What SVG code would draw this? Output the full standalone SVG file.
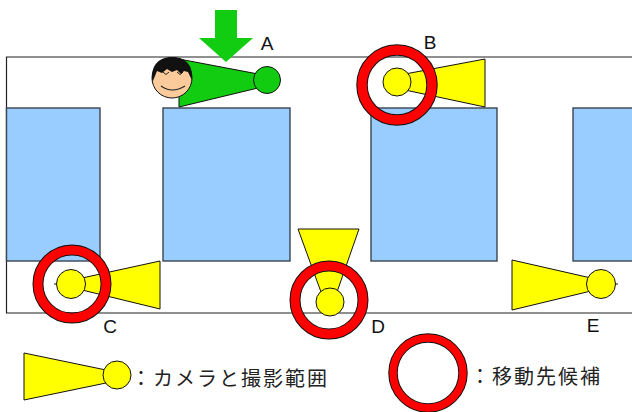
<svg xmlns="http://www.w3.org/2000/svg" width="632" height="412" viewBox="0 0 632 412">
  <style>
    .edge { fill: none; stroke: #222; stroke-width: 1.2; }
    .block { fill: #99CCFF; stroke: #3a4550; stroke-width: 1.4; }
    .cam { fill: #FFFF00; stroke: #111; stroke-width: 1; stroke-linejoin: round; }
    .cam-a { fill: #11CC11; stroke: #111; stroke-width: 1; stroke-linejoin: round; }
    .ring-edge { fill: none; stroke: #111; }
    .ring { fill: none; stroke: #FF0000; }
    .lbl { font-family: "Liberation Sans", Arial, sans-serif; font-size: 19px; fill: #111; text-anchor: middle; }
    .jp { font-family: "Noto Sans CJK JP", "Noto Sans", sans-serif; font-size: 20px; fill: #222; letter-spacing: 2px; }
  </style>

  <!-- corridor outline -->
  <g id="corridor">
    <path class="edge" d="M640,57 H6.5 V313 H640"/>
  </g>

  <!-- rooms -->
  <g id="room-1"><rect class="block" x="6.5" y="108" width="93.5" height="153"/></g>
  <g id="room-2"><rect class="block" x="163" y="108" width="127" height="153"/></g>
  <g id="room-3"><rect class="block" x="371" y="108" width="126" height="153"/></g>
  <g id="room-4"><rect class="block" x="573" y="108" width="70" height="153"/></g>

  <!-- camera A with person -->
  <g id="camera-a">
    <polygon class="cam-a" points="179,59 258,74 258,88 179,107"/>
    <circle class="cam-a" cx="267" cy="80" r="13.5"/>
    <g id="person">
      <circle cx="172" cy="78" r="20" fill="#FBCB9B" stroke="#111" stroke-width="1"/>
      <path d="M152.5,82 C150,63 161,57 172,57 C184,57 194,64 191.8,80 L188,72 L184,71 L181,74 L177,70 L172,72 L167,69 L162,73 L157,71 Z" fill="#111"/>
      <path d="M163,72 l3,2.5 l3,-2.5 M177,72 l3,2.5 l3,-2.5" fill="none" stroke="#222" stroke-width="1"/>
      <path d="M161,86 Q172,94 185,86" fill="none" stroke="#222" stroke-width="1.1"/>
    </g>
  </g>

  <!-- down arrow -->
  <g id="arrow">
    <polygon points="215,10 237,10 237,38 253,38 226,62 199,38 215,38" fill="#11CC11"/>
  </g>

  <!-- camera B -->
  <g id="camera-b">
    <polygon class="cam" points="405,74 485,59 485,107 405,90"/>
    <circle class="cam" cx="397" cy="82" r="14"/>
  </g>

  <!-- camera C -->
  <g id="camera-c">
    <polygon class="cam" points="82,278 160,261 160,309 82,290"/>
    <circle class="cam" cx="71" cy="284" r="14.5"/>
    <line x1="54" y1="284" x2="57" y2="284" stroke="#111" stroke-width="1"/>
  </g>

  <!-- camera D -->
  <g id="camera-d">
    <polygon class="cam" points="298,229 359,229 337,292 321,292"/>
    <circle class="cam" cx="330" cy="302" r="14"/>
  </g>

  <!-- camera E -->
  <g id="camera-e">
    <polygon class="cam" points="512,260 591,278 591,291 512,310"/>
    <circle class="cam" cx="601" cy="284" r="14.5"/>
    <line x1="615" y1="284" x2="618" y2="284" stroke="#111" stroke-width="1"/>
  </g>

  <!-- candidate rings -->
  <g id="ring-b">
    <circle class="ring-edge" cx="397" cy="85" r="35" stroke-width="11.5"/>
    <circle class="ring" cx="397" cy="85" r="35" stroke-width="9.5"/>
  </g>
  <g id="ring-c">
    <circle class="ring-edge" cx="72" cy="284" r="34" stroke-width="11"/>
    <circle class="ring" cx="72" cy="284" r="34" stroke-width="9"/>
  </g>
  <g id="ring-d">
    <circle class="ring-edge" cx="329" cy="300" r="34" stroke-width="11"/>
    <circle class="ring" cx="329" cy="300" r="34" stroke-width="9"/>
  </g>

  <!-- position labels -->
  <g id="labels">
    <text class="lbl" x="267" y="50">A</text>
    <text class="lbl" x="430" y="49">B</text>
    <text class="lbl" x="110" y="333">C</text>
    <text class="lbl" x="378" y="333">D</text>
    <text class="lbl" x="593" y="332">E</text>
  </g>

  <!-- legend -->
  <g id="legend-camera">
    <polygon class="cam" points="24,353 106,370 106,383 24,400"/>
    <circle class="cam" cx="117" cy="375" r="14"/>
    <text class="jp" x="131" y="386">：カメラと撮影範囲</text>
  </g>
  <g id="legend-ring">
    <circle class="ring-edge" cx="428" cy="373" r="35" stroke-width="9.5"/>
    <circle class="ring" cx="428" cy="373" r="35" stroke-width="7.5"/>
    <text class="jp" x="470" y="384">：移動先候補</text>
  </g>
</svg>
